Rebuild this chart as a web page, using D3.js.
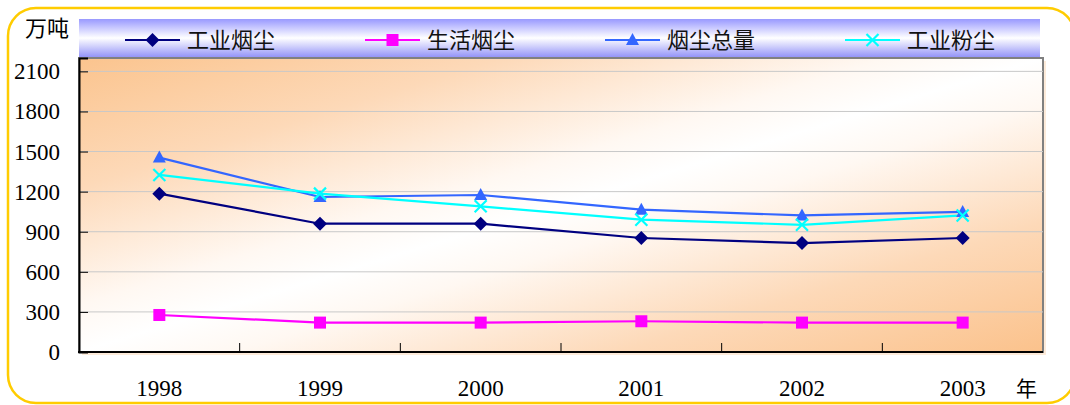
<!DOCTYPE html>
<html>
<head>
<meta charset="utf-8">
<script src="https://cdn.jsdelivr.net/npm/d3@7"></script>
<style>
  html, body { margin: 0; padding: 0; background: #fff; }
  svg { display: block; }
</style>
</head>
<body>
<svg id="chart" width="1070" height="405"></svg>
<script>
// Years on the x axis
const years = ["1998", "1999", "2000", "2001", "2002", "2003"];
// Emissions, 万吨
const industrialSmoke = [1185, 960, 960, 853, 815, 853];   // 工业烟尘
const domesticSmoke   = [277, 220, 220, 230, 220, 220];    // 生活烟尘
const totalSmoke      = [1455, 1160, 1175, 1065, 1022, 1048]; // 烟尘总量
const industrialDust  = [1325, 1185, 1090, 990, 952, 1022];  // 工业粉尘
const yTicks = [0, 300, 600, 900, 1200, 1500, 1800, 2100];

const seriesNames = ["工业烟尘", "生活烟尘", "烟尘总量", "工业粉尘"];
const seriesColors = ["#000080", "#FF00FF", "#3366FF", "#00FFFF"];
const seriesMarkers = ["diamond", "square", "triangle", "cross"];
const series = [industrialSmoke, domesticSmoke, totalSmoke, industrialDust].map((vals, i) => ({
  name: seriesNames[i], color: seriesColors[i], marker: seriesMarkers[i], values: vals
}));

const svg = d3.select("#chart");
const plot = { left: 79, right: 1043, top: 58, bottom: 352 };

const defs = svg.append("defs");
// Peach corners (top-left, bottom-right) fading to white along the other diagonal
const bg = defs.append("linearGradient").attr("id", "plotBg")
  .attr("x1", 0).attr("y1", 0).attr("x2", 1).attr("y2", 1);
[[0, "#FBC48E"], [0.22, "#FDD9B8"], [0.42, "#FFF8F2"], [0.5, "#FFFFFF"],
 [0.58, "#FFF8F2"], [0.78, "#FDD9B8"], [1, "#FBC28C"]].forEach(([o, c]) =>
  bg.append("stop").attr("offset", o).attr("stop-color", c));

const lg = defs.append("linearGradient").attr("id", "legendBg")
  .attr("x1", 0).attr("y1", 0).attr("x2", 0).attr("y2", 1);
lg.append("stop").attr("offset", "0").attr("stop-color", "#9999FF");
lg.append("stop").attr("offset", "0.5").attr("stop-color", "#FFFFFF");
lg.append("stop").attr("offset", "1").attr("stop-color", "#9494F8");

// Outer rounded frame
svg.append("rect")
  .attr("x", 8).attr("y", 8).attr("width", 1067).attr("height", 395)
  .attr("rx", 28).attr("ry", 28)
  .attr("fill", "#fff").attr("stroke", "#FFCC00").attr("stroke-width", 2.5);

// Scales
const x = d3.scaleBand().domain(years).range([plot.left, plot.right]).padding(0);
const y = d3.scaleLinear().domain([0, 2200]).range([plot.bottom, plot.top]);

// Plot background with a faint drop shadow
svg.append("rect")
  .attr("x", plot.left + 3).attr("y", plot.top + 3)
  .attr("width", plot.right - plot.left).attr("height", plot.bottom - plot.top)
  .attr("fill", "#FDEBDA");
svg.append("rect")
  .attr("x", plot.left).attr("y", plot.top)
  .attr("width", plot.right - plot.left).attr("height", plot.bottom - plot.top)
  .attr("fill", "url(#plotBg)")
  .attr("stroke", "#808080").attr("stroke-width", 2);

// Horizontal gridlines
svg.append("g")
  .selectAll("line")
  .data(yTicks.filter(d => d > 0))
  .join("line")
  .attr("x1", plot.left).attr("x2", plot.right)
  .attr("y1", d => y(d)).attr("y2", d => y(d))
  .attr("stroke", "#C8C8C8").attr("stroke-width", 1);

// Legend band
svg.append("rect")
  .attr("x", 79).attr("y", 19).attr("width", 961).attr("height", 38)
  .attr("fill", "url(#legendBg)");

// Y axis (ticks point inward)
const yAxis = d3.axisRight(y).tickValues(yTicks).tickSize(9).tickFormat("");
const yG = svg.append("g").attr("transform", `translate(${plot.left},0)`).call(yAxis);
yG.select(".domain").attr("stroke", "#000").attr("stroke-width", 2);
yG.selectAll(".tick line").attr("stroke", "#000").attr("stroke-width", 1);

const serif = "'Liberation Serif', 'DejaVu Serif', serif";
svg.append("g").selectAll("text")
  .data(yTicks)
  .join("text")
  .attr("x", 60).attr("y", d => y(d) + 8)
  .attr("text-anchor", "end")
  .style("font-family", serif)
  .attr("font-size", 23).attr("fill", "#000")
  .text(d => d);

// X axis: ticks between categories, pointing up
const boundaries = years.slice(1).map(d => x(d));
const xG = svg.append("g");
xG.append("line")
  .attr("x1", plot.left - 1).attr("x2", plot.right)
  .attr("y1", plot.bottom).attr("y2", plot.bottom)
  .attr("stroke", "#000").attr("stroke-width", 2);
xG.selectAll("line.tick")
  .data(boundaries)
  .join("line").attr("class", "tick")
  .attr("x1", d => d).attr("x2", d => d)
  .attr("y1", plot.bottom).attr("y2", plot.bottom - 9)
  .attr("stroke", "#000").attr("stroke-width", 1);
xG.selectAll("text")
  .data(years)
  .join("text")
  .attr("x", d => x(d) + x.bandwidth() / 2)
  .attr("y", 396)
  .attr("text-anchor", "middle")
  .style("font-family", serif)
  .attr("font-size", 23).attr("fill", "#000")
  .text(d => d);

// Unit labels
const cjk = "'Noto Sans CJK SC', 'Noto Sans', sans-serif";
svg.append("text").attr("x", 25).attr("y", 36)
  .style("font-family", cjk).attr("font-size", 22).attr("fill", "#000").text("万吨");
svg.append("text").attr("x", 1016).attr("y", 396)
  .style("font-family", cjk).attr("font-size", 21).attr("fill", "#000").text("年");

// Marker drawing
function drawMarker(g, type, color) {
  if (type === "diamond") {
    g.append("path").attr("d", "M0,-7L7,0L0,7L-7,0Z").attr("fill", color);
  } else if (type === "square") {
    g.append("rect").attr("x", -6).attr("y", -6).attr("width", 12).attr("height", 12).attr("fill", color);
  } else if (type === "triangle") {
    g.append("path").attr("d", "M0,-7L6.5,5L-6.5,5Z").attr("fill", color);
  } else if (type === "cross") {
    g.append("path").attr("d", "M-6,-6L6,6M-6,6L6,-6").attr("stroke", color).attr("stroke-width", 2.2).attr("fill", "none");
  }
}

// Series lines and markers
const cx = d => x(d) + x.bandwidth() / 2;
const line = d3.line().x((d, i) => cx(years[i])).y(d => y(d));
series.forEach(s => {
  svg.append("path")
    .datum(s.values)
    .attr("d", line)
    .attr("fill", "none")
    .attr("stroke", s.color)
    .attr("stroke-width", 2.2);
});
series.forEach(s => {
  svg.append("g").selectAll("g")
    .data(s.values)
    .join("g")
    .attr("transform", (d, i) => `translate(${cx(years[i])},${y(d)})`)
    .each(function () { drawMarker(d3.select(this), s.marker, s.color); });
});

// Legend entries
series.forEach((s, i) => {
  const x0 = 125 + i * 240;
  const g = svg.append("g").attr("transform", `translate(${x0},40)`);
  g.append("line").attr("x1", 0).attr("x2", 55).attr("y1", 0).attr("y2", 0)
    .attr("stroke", s.color).attr("stroke-width", 2.2);
  const m = g.append("g").attr("transform", "translate(27.5,0)");
  drawMarker(m, s.marker, s.color);
  g.append("text").attr("x", 62).attr("y", 8)
    .style("font-family", cjk).attr("font-size", 22).attr("fill", "#111")
    .text(s.name);
});
</script>
</body>
</html>
